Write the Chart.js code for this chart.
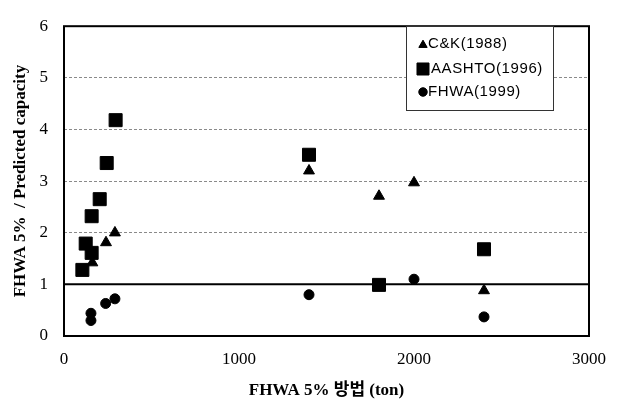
<!DOCTYPE html>
<html>
<head>
<meta charset="utf-8">
<script src="https://cdn.jsdelivr.net/npm/chart.js@4.4.1/dist/chart.umd.min.js"></script>
<style>
  html, body { margin: 0; padding: 0; background: #fff; }
  #wrap { width: 620px; height: 401px; }
</style>
</head>
<body>
<div id="wrap"><canvas id="js-chart-ratio" width="620" height="401"></canvas></div>
<script>
// Data: FHWA 5% load (ton) vs. ratio to predicted capacity
const ckX = [162, 240, 291, 1400, 1800, 2000, 2400];
const ckY = [1.42, 1.81, 2.0, 3.2, 2.71, 2.97, 0.88];

const aashtoX = [105, 124, 158, 158, 204, 244, 295, 1400, 1800, 2400];
const aashtoY = [1.28, 1.79, 1.61, 2.32, 2.65, 3.35, 4.18, 3.51, 0.99, 1.68];

const fhwaX = [154, 154, 238, 291, 1400, 2000, 2400];
const fhwaY = [0.44, 0.30, 0.63, 0.72, 0.80, 1.10, 0.37];

// ratio = 1 reference line
const refX = [0, 3000];
const refY = [1, 1];

const seriesLabels = ['C&K(1988)', 'AASHTO(1996)', 'FHWA(1999)'];
const xTicks = [0, 1000, 2000, 3000];
const yTicks = [0, 1, 2, 3, 4, 5, 6];

const toPoints = (xs, ys) => xs.map((x, i) => ({ x: x, y: ys[i] }));

// Frame around the plot area
const framePlugin = {
  id: 'frame',
  afterDatasetsDraw(chart) {
    const a = chart.chartArea;
    const ctx = chart.ctx;
    ctx.save();
    ctx.strokeStyle = '#000';
    ctx.lineWidth = 2;
    ctx.strokeRect(a.left, a.top, a.right - a.left, a.bottom - a.top);
    ctx.restore();
  }
};

// Boxed legend inside the plot, top right
const boxLegendPlugin = {
  id: 'boxLegend',
  afterDraw(chart) {
    const ctx = chart.ctx;
    const bx = 406, by = 26, bw = 147, bh = 84;
    const rows = [44, 69, 92];
    const sizes = [4.8, 8.5, 4.2];
    ctx.save();
    ctx.fillStyle = '#fff';
    ctx.fillRect(bx, by, bw, bh);
    ctx.strokeStyle = '#333';
    ctx.lineWidth = 1;
    ctx.strokeRect(bx + 0.5, by + 0.5, bw, bh);
    chart.data.datasets.slice(0, 3).forEach((ds, i) => {
      ctx.fillStyle = '#000';
      ctx.strokeStyle = '#000';
      Chart.helpers.drawPoint(ctx, {
        pointStyle: ds.pointStyle,
        radius: sizes[i],
        borderWidth: 1,
        rotation: 0
      }, 423, rows[i] + (i === 0 ? 1 : 0));
      ctx.fill();
      ctx.font = '15px "Liberation Sans", Arial, sans-serif';
      ctx.letterSpacing = '0.6px';
      ctx.textBaseline = 'middle';
      ctx.textAlign = 'left';
      ctx.fillText(ds.label, i === 1 ? 431 : 428, rows[i]);
    });
    ctx.restore();
  }
};

const chartCon = document.getElementById('js-chart-ratio');

const chartRatio = new Chart(chartCon, {
  type: 'scatter',
  data: {
    datasets: [
      {
        label: seriesLabels[0],
        data: toPoints(ckX, ckY),
        pointStyle: 'triangle',
        pointRadius: 6.3,
        backgroundColor: '#000',
        borderColor: '#000',
        borderWidth: 1
      },
      {
        label: seriesLabels[1],
        data: toPoints(aashtoX, aashtoY),
        pointStyle: 'rect',
        pointRadius: 9.2,
        backgroundColor: '#000',
        borderColor: '#000',
        borderWidth: 1
      },
      {
        label: seriesLabels[2],
        data: toPoints(fhwaX, fhwaY),
        pointStyle: 'circle',
        pointRadius: 5,
        backgroundColor: '#000',
        borderColor: '#000',
        borderWidth: 1
      },
      {
        label: 'ref',
        data: toPoints(refX, refY),
        showLine: true,
        pointRadius: 0,
        borderColor: '#000',
        borderWidth: 2
      }
    ]
  },
  options: {
    responsive: false,
    animation: false,
    clip: false,
    layout: { padding: { top: 16, right: 31, left: 0, bottom: 0 } },
    plugins: {
      legend: { display: false },
      tooltip: { enabled: false }
    },
    scales: {
      x: {
        type: 'linear',
        min: 0,
        max: 3000,
        afterBuildTicks: (s) => { s.ticks = xTicks.map(v => ({ value: v })); },
        afterFit: (s) => { s.height = 65; },
        grid: { drawOnChartArea: false, drawTicks: false },
        border: { display: false },
        ticks: {
          color: '#000',
          padding: 13,
          maxRotation: 0,
          callback: (v) => String(v),
          font: { family: '"Liberation Serif", "Times New Roman", serif', size: 17 }
        },
        title: {
          display: true,
          text: 'FHWA 5% 방법 (ton)',
          color: '#000',
          padding: { top: 0, bottom: 0 },
          font: { family: '"Liberation Serif", "Noto Sans CJK KR", serif', size: 17, weight: 'bold' }
        }
      },
      y: {
        min: 0,
        max: 6,
        afterBuildTicks: (s) => { s.ticks = yTicks.map(v => ({ value: v })); },
        afterFit: (s) => { s.width = 64; },
        grid: {
          drawTicks: false,
          lineWidth: 1,
          color: (c) => (c.tick && (c.tick.value === 0 || c.tick.value === 1 || c.tick.value === 6)) ? 'rgba(0,0,0,0)' : '#8a8a8a'
        },
        border: { display: false, dash: [3, 2] },
        ticks: {
          color: '#000',
          padding: 16,
          font: { family: '"Liberation Serif", "Times New Roman", serif', size: 17 }
        },
        title: {
          display: true,
          text: 'FHWA 5%  / Predicted capacity',
          color: '#000',
          padding: { top: 10, bottom: 0 },
          font: { family: '"Liberation Serif", "Times New Roman", serif', size: 17, weight: 'bold' }
        }
      }
    }
  },
  plugins: [framePlugin, boxLegendPlugin]
});
</script>
</body>
</html>
